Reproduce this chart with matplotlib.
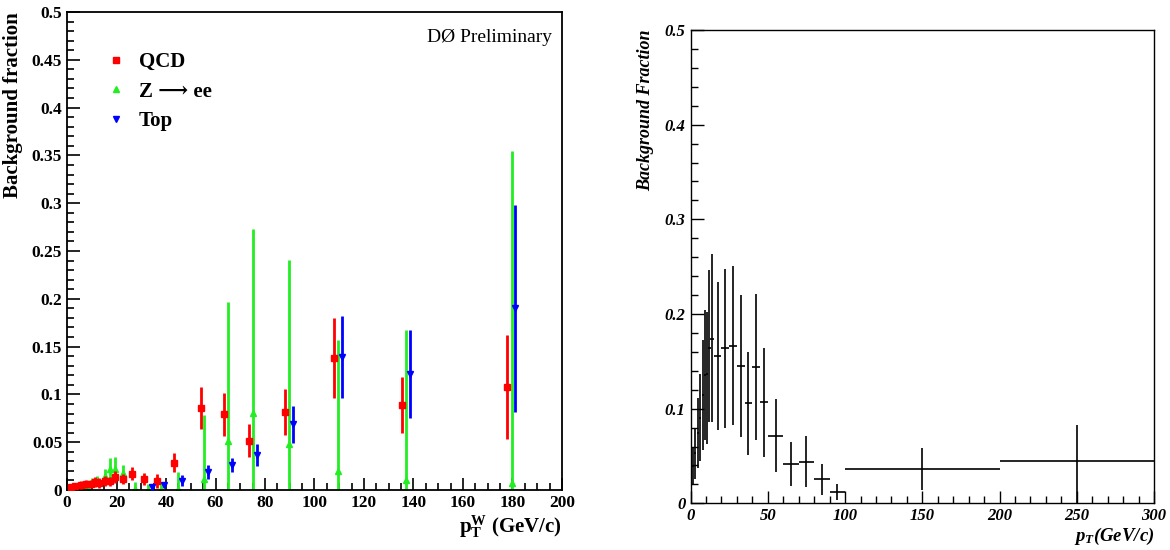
import matplotlib
matplotlib.use("Agg")
import matplotlib.pyplot as plt
from matplotlib.lines import Line2D
from matplotlib.ticker import MultipleLocator, FormatStrFormatter
import numpy as np

plt.rcParams['font.family'] = ['Liberation Serif', 'DejaVu Serif', 'DejaVu Sans']
plt.rcParams['mathtext.fontset'] = 'custom'
plt.rcParams['mathtext.rm'] = 'Liberation Serif'
plt.rcParams['mathtext.bf'] = 'Liberation Serif:bold'
plt.rcParams['mathtext.it'] = 'Liberation Serif:bold:italic'

# left panel: background fractions vs pT^W
qcd_x = [1.5, 3.4, 5.5, 7.5, 9.5, 11.5, 13, 15.2, 17.4, 19.4, 22.7, 26.1, 31.1, 36.2, 43.2,
         54.0, 63.6, 73.7, 88.2, 107.7, 135.4, 177.9]
qcd_y = [0.0035, 0.0045, 0.0055, 0.006, 0.0065, 0.0085, 0.0075, 0.0095, 0.009, 0.0135, 0.0115,
         0.017, 0.0115, 0.0095, 0.0287, 0.0855, 0.079, 0.0516, 0.082, 0.138, 0.0886, 0.108]
qcd_err = [0.003, 0.003, 0.004, 0.004, 0.004, 0.005, 0.005, 0.005, 0.005, 0.006, 0.005,
           0.007, 0.006, 0.007, 0.0095, 0.022, 0.022, 0.017, 0.024, 0.042, 0.0295, 0.0545]

zee_x = [3.5, 6, 8, 10.1, 12, 15.2, 17.2, 19.3, 22.6, 27.6, 32.7, 38, 45,
         55.4, 65, 75, 89.6, 109.4, 137, 179.7]
zee_y = [0.001, 0.002, 0.003, 0.0077, 0.010, 0.0146, 0.0216, 0.0216, 0.0174, 0.001, 0.0005,
         0.001, 0.0015, 0.012, 0.0516, 0.081, 0.048, 0.0199, 0.0105, 0.0077]
zee_err = [0.003, 0.004, 0.004, 0.005, 0.005, 0.007, 0.0115, 0.0125, 0.0085, 0.007, 0.006,
           0.007, 0.017, 0.066, 0.145, 0.192, 0.193, 0.137, 0.1565, 0.347]

top_x = [34.2, 39.2, 46.3, 56.8, 66.7, 76.6, 91.2, 111, 138.4, 181]
top_y = [0.003, 0.005, 0.0098, 0.019, 0.026, 0.0366, 0.0687, 0.139, 0.1217, 0.190]
top_err = [0.002, 0.002, 0.006, 0.007, 0.007, 0.012, 0.0195, 0.043, 0.046, 0.1085]

# right panel: background fraction vs pT
bf_x = [0.5, 1.6, 3.1, 4.6, 5.9, 7.9, 9.2, 10.7, 12.2, 13.9, 17.5, 22.5, 27.5, 32.5, 37.5,
        42.5, 47.5, 55, 65, 75, 85, 95, 150, 250]
bf_xerr = [0.5, 0.6, 0.7, 0.7, 0.7, 0.8, 0.7, 0.8, 0.8, 1.0, 2.5, 2.5, 2.5, 2.5, 2.5,
           2.5, 2.5, 5, 5, 5, 5, 5, 50, 50]
bf_y = [0.05, 0.0394, 0.0528, 0.0746, 0.090, 0.114, 0.1355, 0.137, 0.164, 0.174, 0.156,
        0.1636, 0.166, 0.145, 0.1056, 0.1436, 0.1066, 0.0714, 0.0415, 0.044, 0.0253, 0.0116,
        0.0359, 0.0447]
bf_hi = [0.08, 0.060, 0.078, 0.111, 0.137, 0.172, 0.204, 0.202, 0.246, 0.263, 0.234, 0.247,
         0.251, 0.22, 0.160, 0.221, 0.164, 0.110, 0.065, 0.071, 0.042, 0.020, 0.058, 0.083]
bf_lo = [0.02, 0.019, 0.026, 0.037, 0.045, 0.056, 0.067, 0.063, 0.086, 0.086, 0.077, 0.080,
         0.083, 0.070, 0.051, 0.067, 0.049, 0.0334, 0.0186, 0.0175, 0.009, 0.004, 0.014, 0.0]


def low_high(y, err):
    y = np.array(y)
    err = np.array(err)
    return [np.minimum(err, y), err]


fig = plt.figure(figsize=(11.7, 5.5), dpi=100)

ax = fig.add_axes([0.0573, 0.1091, 0.423, 0.8691])
ax.errorbar(qcd_x, qcd_y, yerr=low_high(qcd_y, qcd_err), fmt='s', color='#ff0000',
            ms=5, elinewidth=2, capsize=0, zorder=3)
ax.errorbar(zee_x, zee_y, yerr=low_high(zee_y, zee_err), fmt='^', color='#22ee22',
            ms=4, elinewidth=2, capsize=0, zorder=2)
ax.errorbar(top_x, top_y, yerr=low_high(top_y, top_err), fmt='v', color='#0000ff',
            ms=4, elinewidth=2, capsize=0, zorder=4)
ax.set_xlim(0, 200)
ax.set_ylim(0, 0.5)
ax.xaxis.set_major_locator(MultipleLocator(20))
ax.xaxis.set_minor_locator(MultipleLocator(5))
ax.yaxis.set_major_locator(MultipleLocator(0.05))
ax.yaxis.set_minor_locator(MultipleLocator(0.01))
ax.yaxis.set_major_formatter(FormatStrFormatter('%g'))
ax.tick_params(which='both', direction='in', labelsize=12.5, width=1.2)
ax.tick_params(which='major', length=9)
ax.tick_params(which='minor', length=5)
for lab in ax.get_xticklabels() + ax.get_yticklabels():
    lab.set_fontweight('bold')
for s in ax.spines.values():
    s.set_linewidth(1.3)
ax.set_xlabel(r'$\mathbf{p_T^W}$ (GeV/c)', fontsize=15, fontweight='bold',
              loc='right', labelpad=2)
ax.set_ylabel('Background fraction', fontsize=15, fontweight='bold', loc='top', labelpad=6)
ax.text(0.98, 0.965, 'DØ Preliminary', transform=ax.transAxes, ha='right', va='top',
        fontsize=14)
handles = [Line2D([], [], ls='none', marker='s', color='#ff0000', ms=5),
           Line2D([], [], ls='none', marker='^', color='#22ee22', ms=4),
           Line2D([], [], ls='none', marker='v', color='#0000ff', ms=4)]
ax.legend(handles, ['QCD', 'Z ⟶ ee', 'Top'], loc='upper left',
          bbox_to_anchor=(0.04, 0.955), frameon=False, handlelength=1.0,
          handletextpad=0.6, labelspacing=0.45, prop={'weight': 'bold', 'size': 15})

ax2 = fig.add_axes([0.5902, 0.0849, 0.3962, 0.8606])
ax2.errorbar(bf_x, bf_y, xerr=bf_xerr,
             yerr=[np.array(bf_y) - np.array(bf_lo), np.array(bf_hi) - np.array(bf_y)],
             fmt='none', ecolor='black', elinewidth=1.2, capsize=0)
ax2.set_xlim(0, 300)
ax2.set_ylim(0, 0.5)
ax2.xaxis.set_major_locator(MultipleLocator(50))
ax2.xaxis.set_minor_locator(MultipleLocator(10))
ax2.yaxis.set_major_locator(MultipleLocator(0.1))
ax2.yaxis.set_minor_locator(MultipleLocator(0.02))
ax2.yaxis.set_major_formatter(FormatStrFormatter('%g'))
ax2.tick_params(which='both', direction='in', labelsize=12, width=1.0, top=False, right=False)
ax2.tick_params(which='major', length=9)
ax2.tick_params(which='minor', length=5)
for lab in ax2.get_xticklabels() + ax2.get_yticklabels():
    lab.set_fontweight('bold')
    lab.set_fontstyle('italic')
for s in ax2.spines.values():
    s.set_linewidth(1.0)
ax2.set_xlabel(r'$p_T$(GeV/c)', fontsize=13.5, fontweight='bold',
               fontstyle='italic', loc='right', labelpad=1)
ax2.set_ylabel('Background Fraction', fontsize=13, fontweight='bold', fontstyle='italic',
               loc='top', labelpad=8)

fig.savefig('out.png', dpi=100)
